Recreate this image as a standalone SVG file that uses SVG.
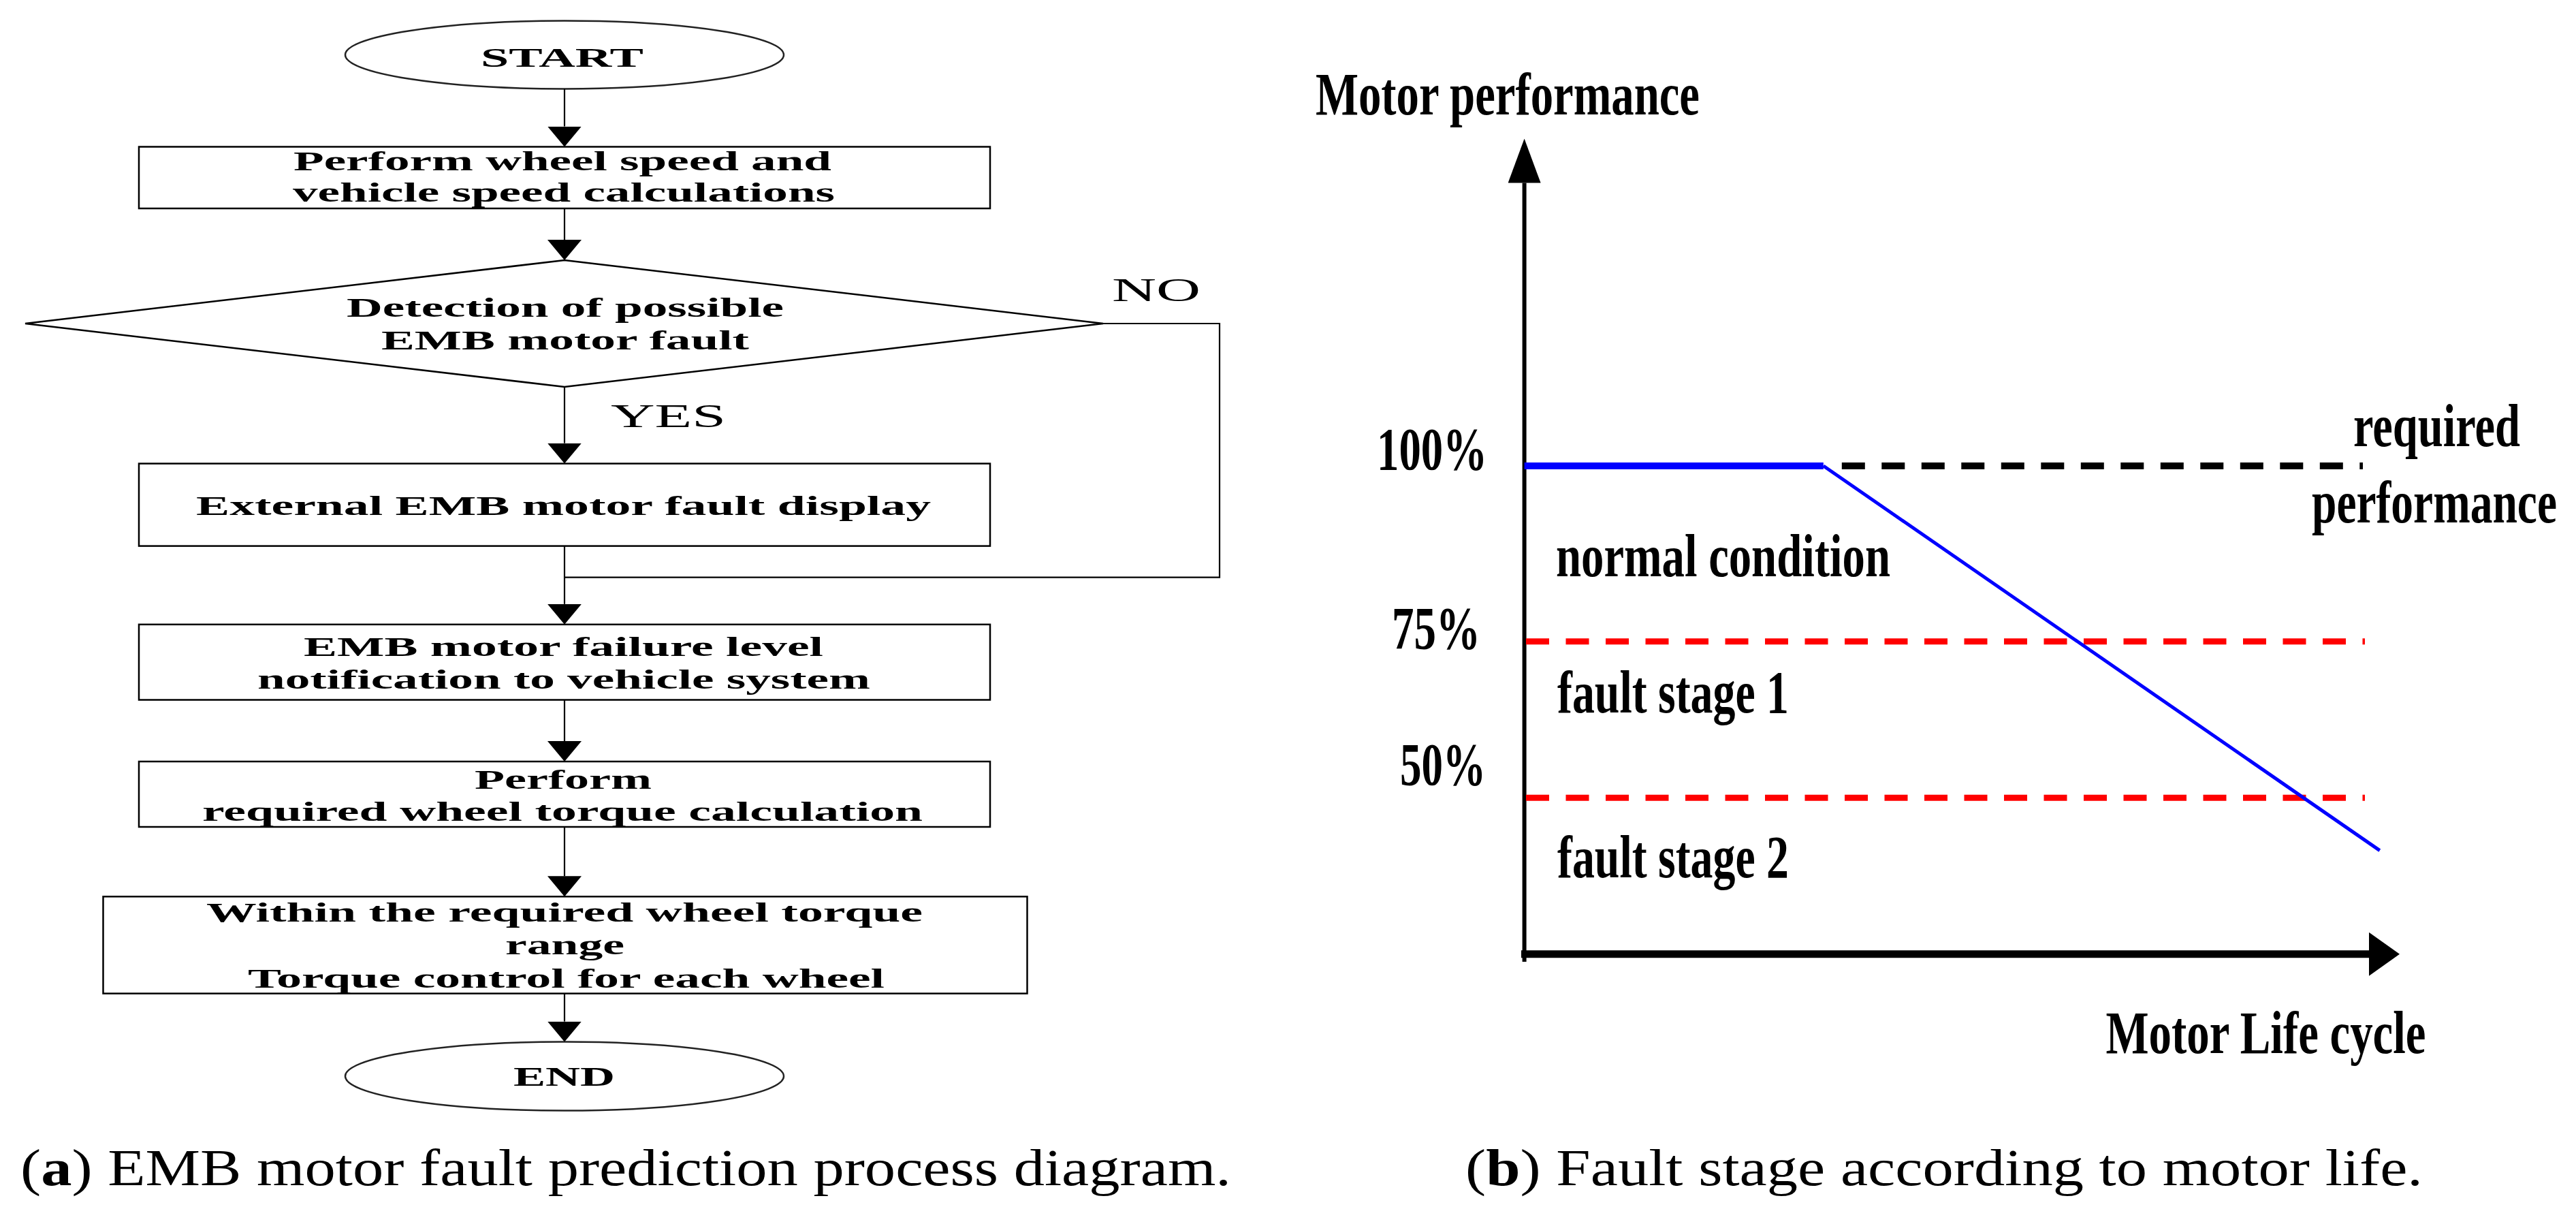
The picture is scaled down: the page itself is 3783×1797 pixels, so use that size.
<svg xmlns="http://www.w3.org/2000/svg" width="3783" height="1797" viewBox="0 0 3783 1797">
<style>
.fc{font-family:"Liberation Serif","Times New Roman",serif;font-weight:bold;font-size:39px;fill:#000}
.lab{font-family:"Liberation Serif","Times New Roman",serif;font-size:49px;fill:#000}
.ch{font-family:"Liberation Serif","Times New Roman",serif;font-weight:bold;font-size:88px;fill:#000}
.cap{font-family:"Liberation Serif","Times New Roman",serif;font-size:77px;fill:#000}
.box{fill:#fff;stroke:#000;stroke-width:2.5}
.oval{fill:#fff;stroke:#222;stroke-width:2.5}
.conn{fill:none;stroke:#000;stroke-width:2.2}
</style>
<defs>
<marker id="ah" viewBox="0 0 30 50" refX="0" refY="25" markerWidth="30" markerHeight="50" markerUnits="userSpaceOnUse" orient="auto"><path d="M0,0 L30,25 L0,50 z" fill="#000"/></marker>
<marker id="ahY" viewBox="0 0 65 48" refX="0" refY="24" markerWidth="65" markerHeight="48" markerUnits="userSpaceOnUse" orient="auto"><path d="M0,0 L65,24 L0,48 z" fill="#000"/></marker>
<marker id="ahX" viewBox="0 0 45 64" refX="0" refY="32" markerWidth="45" markerHeight="64" markerUnits="userSpaceOnUse" orient="auto"><path d="M0,0 L45,32 L0,64 z" fill="#000"/></marker>
</defs>
<rect width="3783" height="1797" fill="#fff"/>

<!-- Flowchart nodes -->
<g id="start">
<ellipse class="oval" cx="829" cy="80.5" rx="322" ry="50"/>
<text class="fc" x="706" y="98" textLength="239" lengthAdjust="spacingAndGlyphs">START</text>
</g>
<g id="calc-speed">
<rect class="box" x="204" y="215.5" width="1250" height="90.5"/>
<text class="fc" x="431" y="250" textLength="790" lengthAdjust="spacingAndGlyphs">Perform wheel speed and</text>
<text class="fc" x="430" y="296" textLength="796" lengthAdjust="spacingAndGlyphs">vehicle speed calculations</text>
</g>
<g id="detect">
<polygon class="box" points="829,382 1620,475 829,568 37,475"/>
<text class="fc" x="509" y="465" textLength="642" lengthAdjust="spacingAndGlyphs">Detection of possible</text>
<text class="fc" x="560" y="513" textLength="540" lengthAdjust="spacingAndGlyphs">EMB motor fault</text>
</g>
<g id="display">
<rect class="box" x="204" y="680.6" width="1250" height="121"/>
<text class="fc" x="288" y="756" textLength="1079" lengthAdjust="spacingAndGlyphs">External EMB motor fault display</text>
</g>
<g id="notify">
<rect class="box" x="204" y="916.8" width="1250" height="110.7"/>
<text class="fc" x="446" y="963" textLength="763" lengthAdjust="spacingAndGlyphs">EMB motor failure level</text>
<text class="fc" x="378" y="1011" textLength="900" lengthAdjust="spacingAndGlyphs">notification to vehicle system</text>
</g>
<g id="torque-calc">
<rect class="box" x="204" y="1118" width="1250" height="96"/>
<text class="fc" x="697" y="1158" textLength="260" lengthAdjust="spacingAndGlyphs">Perform</text>
<text class="fc" x="297" y="1205" textLength="1058" lengthAdjust="spacingAndGlyphs">required wheel torque calculation</text>
</g>
<g id="torque-control">
<rect class="box" x="151.5" y="1316.3" width="1357" height="142.3"/>
<text class="fc" x="303" y="1353" textLength="1052" lengthAdjust="spacingAndGlyphs">Within the required wheel torque</text>
<text class="fc" x="742" y="1401" textLength="175" lengthAdjust="spacingAndGlyphs">range</text>
<text class="fc" x="364" y="1450" textLength="935" lengthAdjust="spacingAndGlyphs">Torque control for each wheel</text>
</g>
<g id="end">
<ellipse class="oval" cx="829" cy="1580" rx="322" ry="50.5"/>
<text class="fc" x="754" y="1594" textLength="149" lengthAdjust="spacingAndGlyphs">END</text>
</g>

<!-- Flowchart connectors -->
<g id="connectors">
<line class="conn" x1="829" y1="130.5" x2="829" y2="185.5" marker-end="url(#ah)"/>
<line class="conn" x1="829" y1="306" x2="829" y2="352" marker-end="url(#ah)"/>
<line class="conn" x1="829" y1="568" x2="829" y2="650.6" marker-end="url(#ah)"/>
<polyline class="conn" points="1620,475 1791,475 1791,847.6 829,847.6"/>
<line class="conn" x1="829" y1="801.6" x2="829" y2="886.8" marker-end="url(#ah)"/>
<line class="conn" x1="829" y1="1027.5" x2="829" y2="1088" marker-end="url(#ah)"/>
<line class="conn" x1="829" y1="1214" x2="829" y2="1286.3" marker-end="url(#ah)"/>
<line class="conn" x1="829" y1="1458.6" x2="829" y2="1499.6" marker-end="url(#ah)"/>
<text class="lab" x="1633" y="442" textLength="130" lengthAdjust="spacingAndGlyphs">NO</text>
<text class="lab" x="897" y="627" textLength="169" lengthAdjust="spacingAndGlyphs">YES</text>
</g>

<text class="cap" x="30" y="1740" textLength="1778" lengthAdjust="spacingAndGlyphs">(<tspan font-weight="bold">a</tspan>) EMB motor fault prediction process diagram.</text>

<!-- Chart -->
<g id="chart">
<line x1="2238.6" y1="1412" x2="2238.6" y2="268.6" stroke="#000" stroke-width="6" marker-end="url(#ahY)"/>
<line x1="2234" y1="1400.8" x2="3479" y2="1400.8" stroke="#000" stroke-width="11" marker-end="url(#ahX)"/>
<line x1="2241" y1="941.8" x2="3473" y2="941.8" stroke="#ff0000" stroke-width="9" stroke-dasharray="34 24.5"/>
<line x1="2241" y1="1171.3" x2="3473" y2="1171.3" stroke="#ff0000" stroke-width="9" stroke-dasharray="34 24.5"/>
<line x1="2704.8" y1="684" x2="3470" y2="684" stroke="#000" stroke-width="10" stroke-dasharray="34 24.5"/>
<line x1="2238.6" y1="684" x2="2677.8" y2="684" stroke="#0000ff" stroke-width="10"/>
<line x1="2677.8" y1="684" x2="3494.8" y2="1248.6" stroke="#0000ff" stroke-width="5"/>
<text class="ch" x="1932" y="168.3" textLength="564" lengthAdjust="spacingAndGlyphs">Motor performance</text>
<text class="ch" x="2022" y="689.3" textLength="162" lengthAdjust="spacingAndGlyphs">100%</text>
<text class="ch" x="2044" y="951.5" textLength="130" lengthAdjust="spacingAndGlyphs">75%</text>
<text class="ch" x="2056" y="1152" textLength="126" lengthAdjust="spacingAndGlyphs">50%</text>
<text class="ch" x="2285" y="846" textLength="491" lengthAdjust="spacingAndGlyphs">normal condition</text>
<text class="ch" x="2287" y="1046" textLength="340" lengthAdjust="spacingAndGlyphs">fault stage 1</text>
<text class="ch" x="2287" y="1288" textLength="340" lengthAdjust="spacingAndGlyphs">fault stage 2</text>
<text class="ch" x="3456" y="655" textLength="245" lengthAdjust="spacingAndGlyphs">required</text>
<text class="ch" style="font-size:66px" transform="translate(3395,766.7) scale(1,1.333)" x="0" y="0" textLength="360" lengthAdjust="spacingAndGlyphs">performance</text>
<text class="ch" x="3092.5" y="1545.8" textLength="470" lengthAdjust="spacingAndGlyphs">Motor Life cycle</text>
</g>

<text class="cap" x="2152" y="1740" textLength="1406" lengthAdjust="spacingAndGlyphs">(<tspan font-weight="bold">b</tspan>) Fault stage according to motor life.</text>
</svg>
